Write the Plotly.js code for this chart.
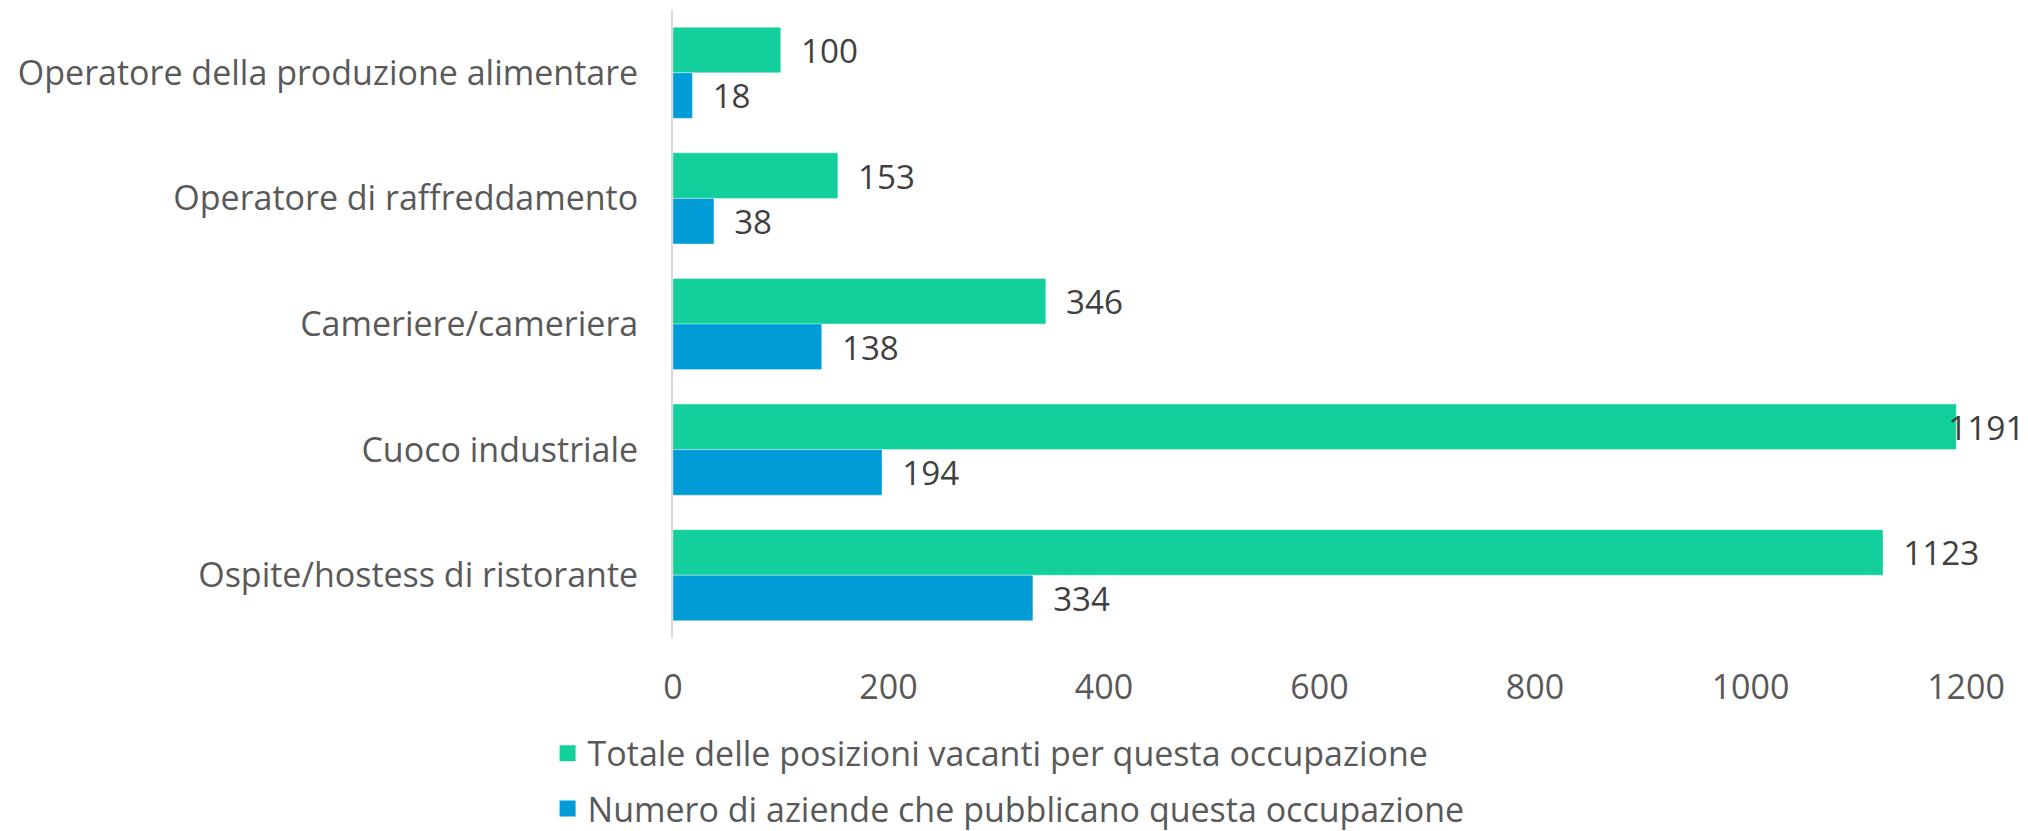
<!DOCTYPE html>
<html>
<head>
<meta charset="utf-8">
<script src="https://cdn.plot.ly/plotly-3.0.1.min.js"></script>
<style>
  html, body { margin: 0; padding: 0; background: #ffffff; }
  #chart { width: 2028px; height: 831px; }
</style>
</head>
<body>
<div id="chart"></div>
<script>
// Categories, listed from top to bottom as in the reference
const categories = [
  "Operatore della produzione alimentare",
  "Operatore di raffreddamento",
  "Cameriere/cameriera",
  "Cuoco industriale",
  "Ospite/hostess di ristorante"
];
const seriesNames = [
  "Totale delle posizioni vacanti per questa occupazione",
  "Numero di aziende che pubblicano questa occupazione"
];
const totalVacancies = [100, 153, 346, 1191, 1123];
const companiesPosting = [18, 38, 138, 194, 334];
const xTickValues = [0, 200, 400, 600, 800, 1000, 1200];
const xMax = 1200;

const GREEN = "#12CF9B";
const BLUE = "#009CD8";
const FONT = "'Open Sans', 'Liberation Sans', Arial, sans-serif";
const FS = 34;      // axis + legend text
const FS_LBL = 33.5; // data labels
const NB = "\u00A0\u00A0";
const LABEL_COLOR = "#404040";

// labels that would run past the chart edge are drawn as annotations pulled back (like the original)
const nearEdge = v => v > xMax * 0.97;

const barCommon = {
  type: "bar",
  orientation: "h",
  y: categories,
  textposition: "outside",
  cliponaxis: false,
  textfont: { family: FONT, size: FS_LBL, color: LABEL_COLOR },
  hoverinfo: "x+y",
  showlegend: false
};

const traces = [
  Object.assign({}, barCommon, {
    name: seriesNames[0],
    x: totalVacancies,
    text: totalVacancies.map(v => nearEdge(v) ? "" : NB + v),
    marker: { color: GREEN, line: { color: "rgba(255,255,255,0.35)", width: 1 } }
  }),
  Object.assign({}, barCommon, {
    name: seriesNames[1],
    x: companiesPosting,
    text: companiesPosting.map(v => nearEdge(v) ? "" : NB + v),
    marker: { color: BLUE, line: { color: "rgba(255,255,255,0.35)", width: 1 } }
  }),
  {
    type: "scatter", mode: "markers", x: [null], y: [null],
    name: seriesNames[0], legend: "legend",
    marker: { symbol: "square", size: 20, color: GREEN },
    hoverinfo: "skip"
  },
  {
    type: "scatter", mode: "markers", x: [null], y: [null],
    name: seriesNames[1], legend: "legend2",
    marker: { symbol: "square", size: 20, color: BLUE },
    hoverinfo: "skip"
  }
];

const annotations = [];
[[totalVacancies, 1], [companiesPosting, -1]].forEach(([vals, dir]) => {
  vals.forEach((v, i) => {
    if (!nearEdge(v)) return;
    annotations.push({
      x: v, y: categories[i], xref: "x", yref: "y",
      text: String(v), showarrow: false,
      xanchor: "left", yanchor: "middle",
      xshift: -10, yshift: dir * 22.7,
      font: { family: FONT, size: FS_LBL, color: LABEL_COLOR }
    });
  });
});

const legendCommon = {
  orientation: "v",
  xanchor: "left",
  yanchor: "middle",
  bgcolor: "rgba(0,0,0,0)",
  font: { family: FONT, size: FS, color: "#595959" },
  itemsizing: "trace"
};

const layout = {
  width: 2028,
  height: 831,
  margin: { l: 673, r: 62, t: 10, b: 193, autoexpand: false },
  paper_bgcolor: "#ffffff",
  plot_bgcolor: "#ffffff",
  barmode: "group",
  bargap: 0.275,
  bargroupgap: 0,
  font: { family: FONT, size: FS, color: "#595959" },
  annotations: annotations,
  xaxis: {
    range: [0, xMax],
    tickvals: xTickValues,
    ticktext: xTickValues.map(String),
    showgrid: false,
    zeroline: false,
    showline: false,
    ticks: "",
    ticklabelstandoff: 26,
    tickfont: { family: FONT, size: FS, color: "#595959" },
    fixedrange: true
  },
  yaxis: {
    type: "category",
    categoryorder: "array",
    categoryarray: categories,
    range: [4.5, -0.5],
    showgrid: false,
    zeroline: false,
    showline: true,
    linecolor: "#D9D9D9",
    linewidth: 2,
    ticks: "",
    ticklabelstandoff: 26,
    tickfont: { family: FONT, size: FS, color: "#595959" },
    fixedrange: true
  },
  legend: Object.assign({}, legendCommon, { x: -0.097, y: -0.184 }),
  legend2: Object.assign({}, legendCommon, { x: -0.097, y: -0.272 })
};

Plotly.newPlot("chart", traces, layout, { displayModeBar: false, staticPlot: true });
</script>
</body>
</html>
